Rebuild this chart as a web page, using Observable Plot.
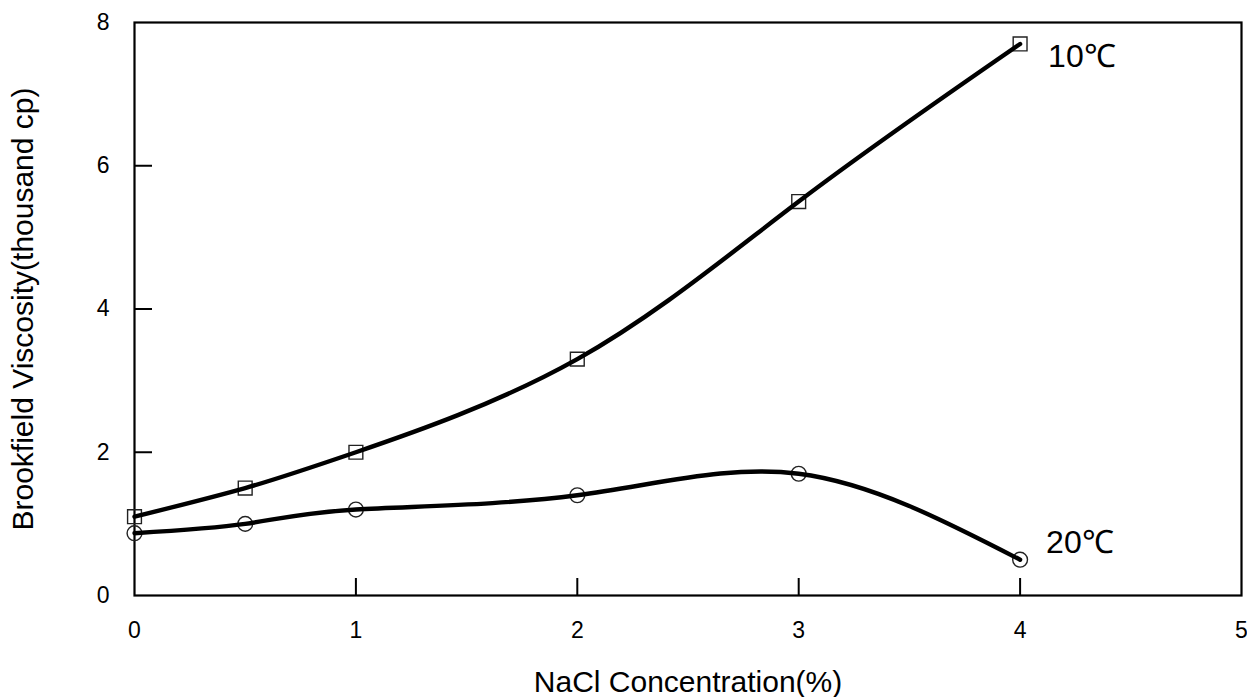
<!DOCTYPE html>
<html>
<head>
<meta charset="utf-8">
<script src="https://cdn.jsdelivr.net/npm/d3@7"></script>
<script src="https://cdn.jsdelivr.net/npm/@observablehq/plot@0.6"></script>
<style>
  html, body { margin: 0; padding: 0; background: #fff; }
</style>
</head>
<body>
<div id="chart"></div>
<script>
// ---- data ----
const nacl = [0, 0.5, 1, 2, 3, 4];
const visc10 = [1.1, 1.5, 2.0, 3.3, 5.5, 7.7];
const visc20 = [0.87, 1.0, 1.2, 1.4, 1.7, 0.5];
const seriesNames = ["10℃", "20℃"];
const xTicks = [0, 1, 2, 3, 4, 5];
const yTicks = [0, 2, 4, 6, 8];
const xLabel = "NaCl Concentration(%)";
const yLabel = "Brookfield Viscosity(thousand cp)";

const rows10 = nacl.map((x, i) => ({x, y: visc10[i]}));
const rows20 = nacl.map((x, i) => ({x, y: visc20[i]}));

const W = 1247, H = 697;
const mL = 134, mR = 6, mT = 22, mB = 102;
const plotW = W - mL - mR, plotH = H - mT - mB;
const font = "'Liberation Sans', Arial, Helvetica, sans-serif";

const chart = Plot.plot({
  width: W,
  height: H,
  marginLeft: mL,
  marginRight: mR,
  marginTop: mT,
  marginBottom: mB,
  style: {fontFamily: font, fontSize: "23px", color: "#000", background: "#fff"},
  x: {domain: [0, 5]},
  y: {domain: [0, 8]},
  marks: [
    Plot.axisX({ticks: xTicks, tickSize: 0, tickPadding: 26, label: null, tickFormat: d => String(d)}),
    Plot.axisY({ticks: yTicks, tickSize: 0, tickPadding: 25, label: null, tickFormat: d => String(d)}),
    // inward ticks
    Plot.tickX(xTicks.slice(1, -1), {x: d => d, insetTop: plotH - 17, stroke: "#000", strokeWidth: 2}),
    Plot.tickY(yTicks.slice(1, -1), {y: d => d, insetRight: plotW - 18, stroke: "#000", strokeWidth: 2}),
    Plot.frame({stroke: "#000", strokeWidth: 2.2}),
    Plot.dot(rows10, {x: "x", y: "y", symbol: "square", r: 7.8, stroke: "#222", strokeWidth: 1.4, fill: "none"}),
    Plot.dot(rows20, {x: "x", y: "y", symbol: "circle", r: 7.4, stroke: "#222", strokeWidth: 1.4, fill: "none"}),
    Plot.line(rows10, {x: "x", y: "y", curve: "natural", stroke: "#000", strokeWidth: 4.4}),
    Plot.line(rows20, {x: "x", y: "y", curve: "natural", stroke: "#000", strokeWidth: 4.4}),
    Plot.text([seriesNames[0]], {x: nacl[5], y: visc10[5], text: d => d, textAnchor: "start", lineAnchor: "middle", dx: 28, dy: 13, fontSize: 32, fill: "#000"}),
    Plot.text([seriesNames[1]], {x: nacl[5], y: visc20[5], text: d => d, textAnchor: "start", lineAnchor: "middle", dx: 26, dy: -17, fontSize: 32, fill: "#000"}),
    Plot.text([xLabel], {frameAnchor: "bottom", text: d => d, textAnchor: "middle", lineAnchor: "middle", dy: 87, fontSize: 30, fill: "#000"}),
    Plot.text([yLabel], {frameAnchor: "left", text: d => d, rotate: -90, textAnchor: "middle", lineAnchor: "middle", dx: -111, fontSize: 30, fill: "#000"})
  ]
});
document.getElementById("chart").appendChild(chart);
</script>
</body>
</html>
